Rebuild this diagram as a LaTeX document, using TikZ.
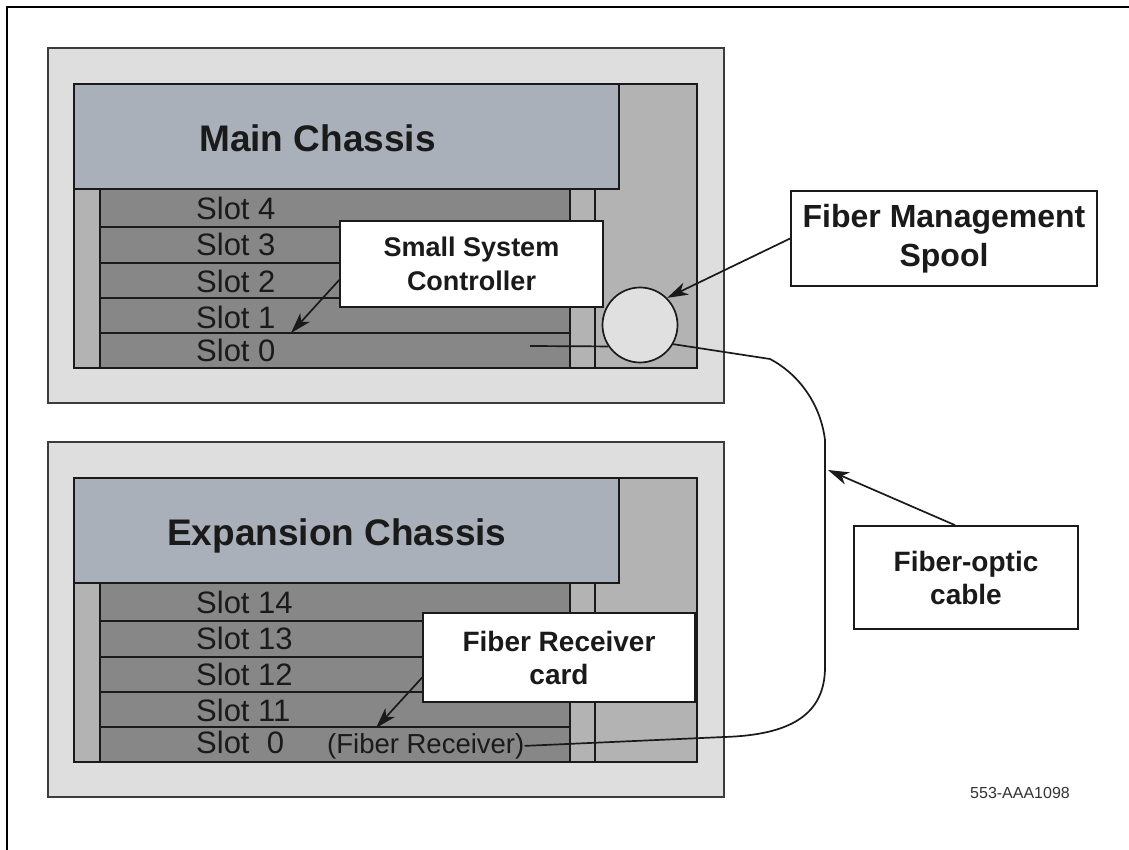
\documentclass[tikz,border=0pt]{standalone}
\usepackage{fontspec}
\setmainfont{Liberation Sans}
\usetikzlibrary{arrows.meta,calc}
\definecolor{outerc}{HTML}{DEDEDE}
\definecolor{innerc}{HTML}{B3B3B3}
\definecolor{headc}{HTML}{A9B0B9}
\definecolor{slotc}{HTML}{878787}
\definecolor{spoolc}{HTML}{E0E0E0}
\definecolor{linec}{HTML}{1A1A1A}
\definecolor{codec}{HTML}{333333}
\begin{document}
\begin{tikzpicture}[x=1pt,y=-1pt,
 outerbox/.style={fill=outerc, draw=linec!85, line width=1.6pt},
 innerbox/.style={fill=innerc, draw=linec, line width=1.8pt},
 headbox/.style={fill=headc, draw=linec, line width=2pt},
 slotbox/.style={fill=slotc, draw=linec, line width=1.7pt},
 divider/.style={draw=linec, line width=1.7pt},
 slottext/.style={anchor=base west, inner sep=0, font=\fontsize{31}{36}\selectfont, text=linec},
 titletext/.style={anchor=base west, inner sep=0, font=\fontsize{37}{44}\selectfont\bfseries, text=linec},
 callout/.style={draw=linec, line width=1.7pt, fill=white, align=center, inner sep=0, text=linec},
 spoolnode/.style={circle, draw=linec, line width=1.7pt, fill=spoolc, minimum size=75pt, inner sep=0},
 pointer/.style={draw=linec, line width=1.7pt, -{Stealth[length=21pt,width=13pt,inset=6pt]}},
 cable/.style={draw=linec, line width=1.7pt}]
\useasboundingbox (0,0) rectangle (1129,850);
\fill[white] (0,0) rectangle (1129,850);
\draw[line width=2.4pt] (7,850) -- (7,7) -- (1129,7);

% ---------- Main chassis ----------
\draw[outerbox] (48,48) rectangle (724,403);
\draw[innerbox] (74,84) rectangle (697,368);
\draw[divider] (595,189) -- (595,368);
\foreach \a/\b in {189/227,227/263,263/298,298/333,333/368}
  \draw[slotbox] (100,\a) rectangle (570,\b);
\draw[headbox] (74,84) rectangle (619,189);
\node[titletext] (maintitle) at (199,152) {Main Chassis};
\node[slottext] (ms4) at (196,220) {Slot 4};
\node[slottext] (ms3) at (196,256) {Slot 3};
\node[slottext] (ms2) at (196,292) {Slot 2};
\node[slottext] (ms1) at (196,328) {Slot 1};
\node[slottext] (ms0) at (196,361) {Slot 0};
\node[spoolnode] (spool) at (640,325) {};
\coordinate (mainsz) at (530,346);
\draw[cable] (mainsz) -- (spool.214);

% ---------- Expansion chassis ----------
\begin{scope}[shift={(0,394)}]
\draw[outerbox] (48,48) rectangle (724,403);
\draw[innerbox] (74,84) rectangle (697,368);
\draw[divider] (595,189) -- (595,368);
\foreach \a/\b in {189/227,227/263,263/298,298/333,333/368}
  \draw[slotbox] (100,\a) rectangle (570,\b);
\draw[headbox] (74,84) rectangle (619,189);
\node[titletext] (exptitle) at (167,151) {Expansion Chassis};
\node[slottext] (es14) at (196,219) {Slot 14};
\node[slottext] (es13) at (196,255) {Slot 13};
\node[slottext] (es12) at (196,291) {Slot 12};
\node[slottext] (es11) at (196,327) {Slot 11};
\node[slottext] (es0) at (196,359) {Slot\ \ 0};
\node[anchor=base west, inner sep=0, font=\fontsize{27.5}{33}\selectfont, text=linec] (frtext) at (327,359) {(Fiber Receiver)};
\end{scope}

% ---------- Callouts ----------
\node[callout, minimum width=263pt, minimum height=86pt, font=\fontsize{27}{34}\selectfont\bfseries] (ssc) at (471.5,264) {Small System\\Controller};
\node[callout, minimum width=306pt, minimum height=95pt, font=\fontsize{32}{39}\selectfont\bfseries] (fm) at (944,238.5) {Fiber Management\\Spool};
\node[callout, minimum width=224pt, minimum height=103pt, font=\fontsize{28}{33}\selectfont\bfseries] (fo) at (966,577.5) {Fiber-optic\\cable};
\node[callout, minimum width=272pt, minimum height=89pt, font=\fontsize{28}{33}\selectfont\bfseries] (frc) at (559,657.5) {Fiber Receiver\\card};
\node[anchor=west, inner sep=0, font=\fontsize{16}{19}\selectfont, text=codec] (code) at (970,793) {553-AAA1098};

% ---------- Cable ----------
\draw[cable] (frtext.east) -- (724,737) .. controls (790,735) and (825,715) .. (825,667)
  -- (825,440) .. controls (820,400) and (795,372) .. (770,359) -- (spool.-30);

% ---------- Pointers ----------
\coordinate (ssctip) at (291,333);
\coordinate (frctip) at (376,728);
\coordinate (cabletip) at (828,470);
\draw[pointer] ($(ssc.west)+(0,16)$) -- (ssctip);
\draw[pointer] ($(frc.west)+(0,20)$) -- (frctip);
\draw[pointer] (fm.west) -- (spool.45);
\draw[pointer] ($(fo.north)+(-11,0)$) -- (cabletip);
\end{tikzpicture}
\end{document}
